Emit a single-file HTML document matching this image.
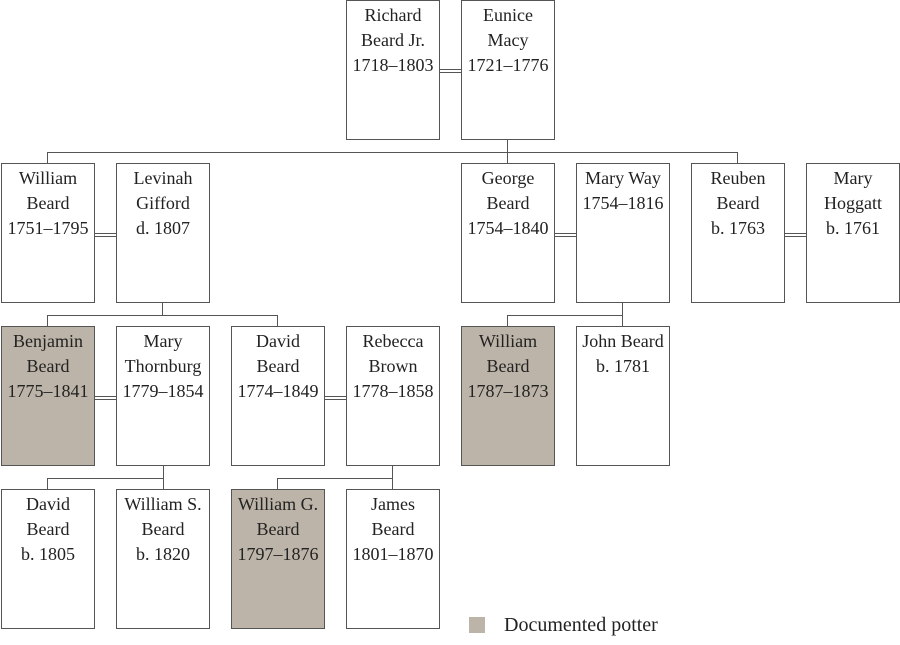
<!DOCTYPE html>
<html><head><meta charset="utf-8"><style>
body{margin:0;width:900px;height:645px;background:#fff;position:relative;overflow:hidden;font-family:"Liberation Serif",serif;color:#222}
.b{position:absolute;width:94px;height:140px;border:1px solid #555;background:#fff;text-align:center;font-size:18px;line-height:25px;padding-top:2px;box-sizing:border-box;white-space:nowrap}
.p{background:#bcb4a8}
.l{position:absolute;background:#555}
</style></head><body>
<div class="b" style="left:346px;top:0px">Richard<br>Beard Jr.<br>1718–1803</div>
<div class="b" style="left:461px;top:0px">Eunice<br>Macy<br>1721–1776</div>

<div class="b" style="left:1px;top:163px">William<br>Beard<br>1751–1795</div>
<div class="b" style="left:116px;top:163px">Levinah<br>Gifford<br>d. 1807</div>
<div class="b" style="left:461px;top:163px">George<br>Beard<br>1754–1840</div>
<div class="b" style="left:576px;top:163px">Mary Way<br>1754–1816</div>
<div class="b" style="left:691px;top:163px">Reuben<br>Beard<br>b. 1763</div>
<div class="b" style="left:806px;top:163px">Mary<br>Hoggatt<br>b. 1761</div>

<div class="b p" style="left:1px;top:326px">Benjamin<br>Beard<br>1775–1841</div>
<div class="b" style="left:116px;top:326px">Mary<br>Thornburg<br>1779–1854</div>
<div class="b" style="left:231px;top:326px">David<br>Beard<br>1774–1849</div>
<div class="b" style="left:346px;top:326px">Rebecca<br>Brown<br>1778–1858</div>
<div class="b p" style="left:461px;top:326px">William<br>Beard<br>1787–1873</div>
<div class="b" style="left:576px;top:326px">John Beard<br>b. 1781</div>

<div class="b" style="left:1px;top:489px">David<br>Beard<br>b. 1805</div>
<div class="b" style="left:116px;top:489px">William S.<br>Beard<br>b. 1820</div>
<div class="b p" style="left:231px;top:489px">William G.<br>Beard<br>1797–1876</div>
<div class="b" style="left:346px;top:489px">James<br>Beard<br>1801–1870</div>

<!-- marriage lines -->
<div class="l" style="left:440px;top:69px;width:21px;height:1px"></div><div class="l" style="left:440px;top:72px;width:21px;height:1px"></div>
<div class="l" style="left:95px;top:233px;width:21px;height:1px"></div><div class="l" style="left:95px;top:236px;width:21px;height:1px"></div>
<div class="l" style="left:555px;top:233px;width:21px;height:1px"></div><div class="l" style="left:555px;top:236px;width:21px;height:1px"></div>
<div class="l" style="left:785px;top:233px;width:21px;height:1px"></div><div class="l" style="left:785px;top:236px;width:21px;height:1px"></div>
<div class="l" style="left:95px;top:396px;width:21px;height:1px"></div><div class="l" style="left:95px;top:399px;width:21px;height:1px"></div>
<div class="l" style="left:325px;top:396px;width:21px;height:1px"></div><div class="l" style="left:325px;top:399px;width:21px;height:1px"></div>

<div class="l" style="left:507px;top:140px;width:1px;height:12px"></div>
<div class="l" style="left:47px;top:152px;width:691px;height:1px"></div>
<div class="l" style="left:47px;top:152px;width:1px;height:11px"></div>
<div class="l" style="left:507px;top:152px;width:1px;height:11px"></div>
<div class="l" style="left:737px;top:152px;width:1px;height:11px"></div>

<div class="l" style="left:162px;top:303px;width:1px;height:12px"></div>
<div class="l" style="left:47px;top:315px;width:231px;height:1px"></div>
<div class="l" style="left:47px;top:315px;width:1px;height:11px"></div>
<div class="l" style="left:277px;top:315px;width:1px;height:11px"></div>

<div class="l" style="left:622px;top:303px;width:1px;height:23px"></div>
<div class="l" style="left:507px;top:315px;width:116px;height:1px"></div>
<div class="l" style="left:507px;top:315px;width:1px;height:11px"></div>

<div class="l" style="left:163px;top:466px;width:1px;height:23px"></div>
<div class="l" style="left:47px;top:478px;width:117px;height:1px"></div>
<div class="l" style="left:47px;top:478px;width:1px;height:11px"></div>

<div class="l" style="left:392px;top:466px;width:1px;height:23px"></div>
<div class="l" style="left:277px;top:478px;width:116px;height:1px"></div>
<div class="l" style="left:277px;top:478px;width:1px;height:11px"></div>

<div style="position:absolute;left:469px;top:617px;width:16px;height:16px;background:#bcb4a8"></div>
<div style="position:absolute;left:504px;top:613px;font-size:20px;line-height:24px">Documented potter</div>
</body></html>
